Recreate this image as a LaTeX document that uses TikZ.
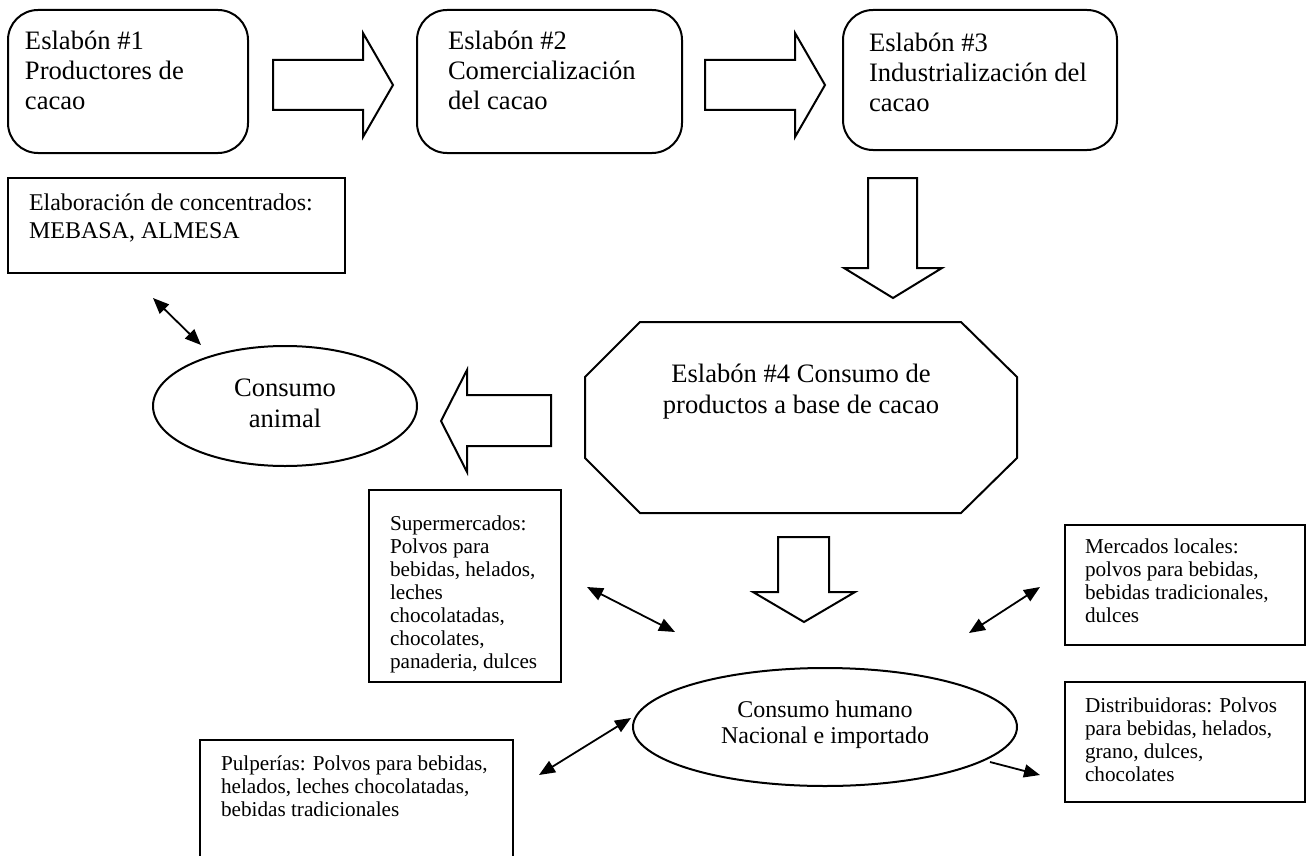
\documentclass[tikz,border=0pt]{standalone}
\usepackage{fontspec}
\setmainfont{Liberation Serif}
\usetikzlibrary{arrows.meta,shapes.geometric,fit}
\begin{document}
\begin{tikzpicture}[x=0.5pt,y=-0.5pt,
  every node/.style={inner sep=0pt, outer sep=0pt},
  roundbox/.style={draw, line width=1pt, rounded corners=15pt},
  plainbox/.style={draw, line width=1pt},
  blockarrow/.style={draw, line width=1pt, line join=miter, fill=white},
  oval/.style={draw, line width=1pt, ellipse},
  % multi-line texts are placed by the baseline of their last line
  bigtxt/.style={font=\fontsize{13.3}{15}\selectfont, align=left, anchor=base west},
  bigmid/.style={font=\fontsize{13.3}{15.5}\selectfont, align=center, anchor=base},
  midtxt/.style={font=\fontsize{12}{14}\selectfont, align=left, anchor=base west},
  humtxt/.style={font=\fontsize{12}{13}\selectfont, align=center, anchor=base},
  smalltxt/.style={font=\fontsize{10.6}{11.5}\selectfont, align=left, anchor=base west},
  link/.style={line width=0.9pt, {Triangle[length=8pt,width=6.5pt]}-{Triangle[length=8pt,width=6.5pt]}},
  onelink/.style={line width=0.9pt, -{Triangle[length=8pt,width=6.5pt]}}
]
% page frame
\path[fill=white, use as bounding box] (0,0) rectangle (1311,856);

% the three upper links of the chain
\node[roundbox, fit={(8,10)(248,153)}] (b1) {};
\node[roundbox, fit={(417,10)(682,153)}] (b2) {};
\node[roundbox, fit={(843,10)(1117,150)}] (b3) {};
\node[bigtxt] (t1) at (25,110) {Eslabón \#1\\Productores de\\cacao};
\node[bigtxt] (t2) at (448,110) {Eslabón \#2\\Comercialización\\del cacao};
\node[bigtxt] (t3) at (869,112) {Eslabón \#3\\Industrialización del\\cacao};

% block arrows between the links
\draw[blockarrow] (273,60) -- (363,60) -- (363,33) -- (393,85) -- (363,137) -- (363,110) -- (273,110) -- cycle;
\draw[blockarrow] (705,60) -- (795,60) -- (795,33) -- (825,85) -- (795,137) -- (795,110) -- (705,110) -- cycle;
\draw[blockarrow] (868,178) -- (917,178) -- (917,268) -- (942,268) -- (893,298) -- (844,268) -- (868,268) -- cycle;

% feed concentrates
\node[plainbox, fit={(8,178)(345,273)}] (elab) {};
\node[midtxt] (telab) at (29,238) {Elaboración de concentrados:\\MEBASA, ALMESA};

% link 4
\draw[line width=1pt, line join=miter] (640,322) -- (961,322) -- (1017,377) -- (1017,458) -- (961,513) -- (640,513) -- (585,458) -- (585,377) -- cycle;
\node[bigmid] (t4) at (801,413) {Eslabón \#4 Consumo de\\productos a base de cacao};

% animal consumption
\node[oval, minimum width=132pt, minimum height=60pt] (animal) at (285,406) {};
\node[bigmid] (tanimal) at (285,427) {Consumo\\animal};
\draw[blockarrow] (551,395) -- (467,395) -- (467,370) -- (441,421) -- (467,472) -- (467,446) -- (551,446) -- cycle;

% human consumption
\draw[blockarrow] (778,537) -- (829,537) -- (829,592) -- (855,592) -- (804,622) -- (753,592) -- (778,592) -- cycle;
\node[oval, minimum width=192pt, minimum height=59pt] (human) at (825,727) {};
\node[humtxt] (thuman) at (825,743) {Consumo humano\\Nacional e importado};

% sales channels
\node[plainbox, fit={(369,490)(561,682)}] (super) {};
\node[smalltxt] (tsuper) at (390,668) {Supermercados:\\Polvos para\\bebidas, helados,\\leches\\chocolatadas,\\chocolates,\\panaderia, dulces};
\node[plainbox, fit={(1065,525)(1305,645)}] (merc) {};
\node[smalltxt] (tmerc) at (1085,622) {Mercados locales:\\polvos para bebidas,\\bebidas tradicionales,\\dulces};
\node[plainbox, fit={(1065,682)(1305,802)}] (dist) {};
\node[smalltxt] (tdist) at (1085,781) {Distribuidoras: Polvos\\para bebidas, helados,\\grano, dulces,\\chocolates};
\node[plainbox, fit={(200,740)(513,862)}] (pulp) {};
\node[smalltxt] (tpulp) at (221,816) {Pulperías: Polvos para bebidas,\\helados, leches chocolatadas,\\bebidas tradicionales};

% two-way links
\coordinate (ea1) at (153,298); \coordinate (ea2) at (201,345);
\coordinate (sh1) at (587,587); \coordinate (sh2) at (675,632);
\coordinate (mh1) at (1040,587); \coordinate (mh2) at (969,633);
\coordinate (ph1) at (539,775); \coordinate (ph2) at (631,718);
\coordinate (hd1) at (990,762); \coordinate (hd2) at (1040,775);
\draw[link] (ea1) -- (ea2);
\draw[link] (sh1) -- (sh2);
\draw[link] (mh1) -- (mh2);
\draw[link] (ph1) -- (ph2);
\draw[onelink] (hd1) -- (hd2);
\end{tikzpicture}
\end{document}
